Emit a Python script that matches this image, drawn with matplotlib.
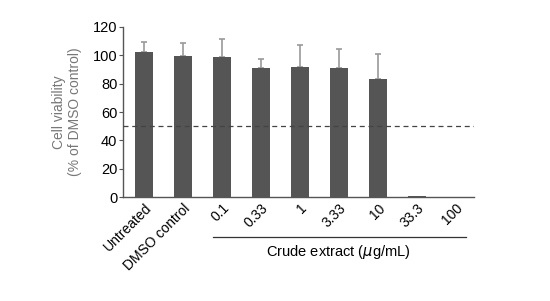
import matplotlib
matplotlib.use("Agg")
import matplotlib.pyplot as plt

# labels and values
labels = ['Untreated', 'DMSO control', '0.1', '0.33', '1', '3.33', '10', '33.3', '100']
viability = [102.5, 99.8, 98.6, 90.8, 91.7, 91.3, 83.0, 0.5, 0.3]
err_up = [6.9, 9.2, 12.9, 6.8, 15.3, 13.4, 17.7, 0, 0]
threshold = 50

plt.rcParams['font.family'] = ['Liberation Sans', 'DejaVu Sans']

fig = plt.figure(figsize=(5.5, 3.01), dpi=100)
ax = fig.add_axes([0.2236, 0.3455, 0.6382, 0.5648])

x = list(range(len(labels)))
ax.bar(x, viability, width=0.475, color='#555555', zorder=2)
ax.errorbar(x[:7], viability[:7], yerr=[[0] * 7, err_up[:7]], fmt='none',
            ecolor='#999999', elinewidth=1.2, capsize=2.5, capthick=1.2, zorder=1)
ax.axhline(threshold, color='#444444', ls=(0, (4, 3)), lw=0.9, zorder=3)

ax.set_xlim(-0.54, 8.46)
ax.set_ylim(0, 120)
ax.set_yticks(range(0, 121, 20))
ax.tick_params(axis='y', labelsize=10.5, length=3, width=0.8, color='#555555', pad=1)
ax.tick_params(axis='x', length=0, labelsize=10, pad=3)
ax.set_xticks(x)
ax.set_xticklabels(labels, rotation=45, ha='right', rotation_mode='anchor')

for s in ['top', 'right']:
    ax.spines[s].set_visible(False)
for s in ['left', 'bottom']:
    ax.spines[s].set_color('#555555')
    ax.spines[s].set_linewidth(1.0)

ax.set_ylabel('Cell viability\n(% of DMSO control)', color='#777777', fontsize=10,
              labelpad=8, linespacing=1.15)

# bracket under the crude extract concentrations
fig.add_artist(plt.Line2D([213 / 550, 466 / 550], [1 - 237 / 301, 1 - 237 / 301],
                          color='#333333', lw=0.9))
fig.text(338 / 550, 1 - 252 / 301, 'Crude extract ($\\mu$g/mL)', ha='center', va='center',
         fontsize=10.5)

fig.savefig('out.png', dpi=100)
